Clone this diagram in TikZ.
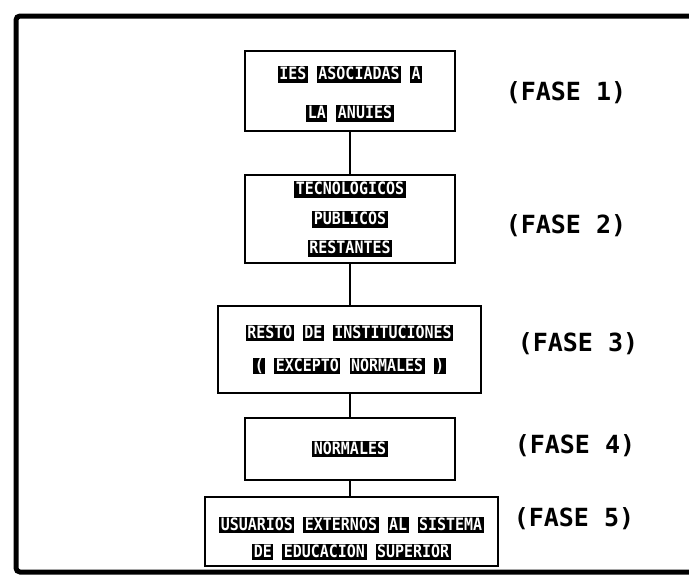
\documentclass[tikz,border=0pt]{standalone}
\usepackage{fontspec}
\setmonofont{DejaVu Sans Mono}
\newfontfamily\boxfont{DejaVu Sans Mono Bold}[FakeStretch=0.88]
\usepackage{xcolor}
\newcommand{\hw}[1]{{\setlength\fboxsep{0pt}\colorbox{black}{\rule[-3pt]{0pt}{16.5pt}\kern1.5pt\textcolor{white}{#1}\kern1.5pt}}}
\tikzset{
  stage/.style={draw=black, line width=2.2pt, rectangle, align=center, inner sep=0pt,
    font=\boxfont\fontsize{17}{20}\selectfont},
  phase/.style={font=\ttfamily\bfseries\fontsize{25}{28}\selectfont, inner sep=0pt},
  link/.style={draw=black, line width=2pt},
  frame/.style={draw=black, line width=5pt}
}
\begin{document}
\begin{tikzpicture}[x=1pt,y=-1pt]
\useasboundingbox (0,0) rectangle (689,576);
\fill[white] (0,0) rectangle (689,576);
% frame
\coordinate (ftr) at (689,16);
\coordinate (fbr) at (689,572);
\draw[frame, rounded corners=4pt] (ftr) -- (16,16) -- (16,572) -- (fbr);
% boxes
\node[stage, minimum width=210, minimum height=80] (b1) at (350,91)
  {\rule{0pt}{19pt}\hw{IES} \hw{ASOCIADAS} \hw{A}\\[19pt]\hw{LA} \hw{ANUIES}};
\node[stage, minimum width=210, minimum height=88] (b2) at (350,219)
  {\hw{TECNOLOGICOS}\\[10pt]\hw{PUBLICOS}\\[9pt]\hw{RESTANTES}};
\node[stage, minimum width=263, minimum height=87] (b3) at (349.5,349.5)
  {\hw{RESTO} \hw{DE} \hw{INSTITUCIONES}\\[13pt]\hw{(} \hw{EXCEPTO} \hw{NORMALES} \hw{)}};
\node[stage, minimum width=210, minimum height=62] (b4) at (350,449)
  {\hw{NORMALES}};
\node[stage, minimum width=293, minimum height=69] (b5) at (351.5,531.5)
  {\rule{0pt}{27pt}\hw{USUARIOS} \hw{EXTERNOS} \hw{AL} \hw{SISTEMA}\\[7pt]\hw{DE} \hw{EDUCACION} \hw{SUPERIOR}};
% connectors
\draw[link] (b1.south) -- (b2.north);
\draw[link] (b2.south) -- (b2.south |- b3.north);
\draw[link] (b2.south |- b3.south) -- (b4.north);
\draw[link] (b4.south) -- (b4.south |- b5.north);
% phases
\node[phase] (f1) at (566,93) {(FASE 1)};
\node[phase] (f2) at (566,226) {(FASE 2)};
\node[phase] (f3) at (578,344) {(FASE 3)};
\node[phase] (f4) at (575,446) {(FASE 4)};
\node[phase] (f5) at (574,519) {(FASE 5)};
\end{tikzpicture}
\end{document}
